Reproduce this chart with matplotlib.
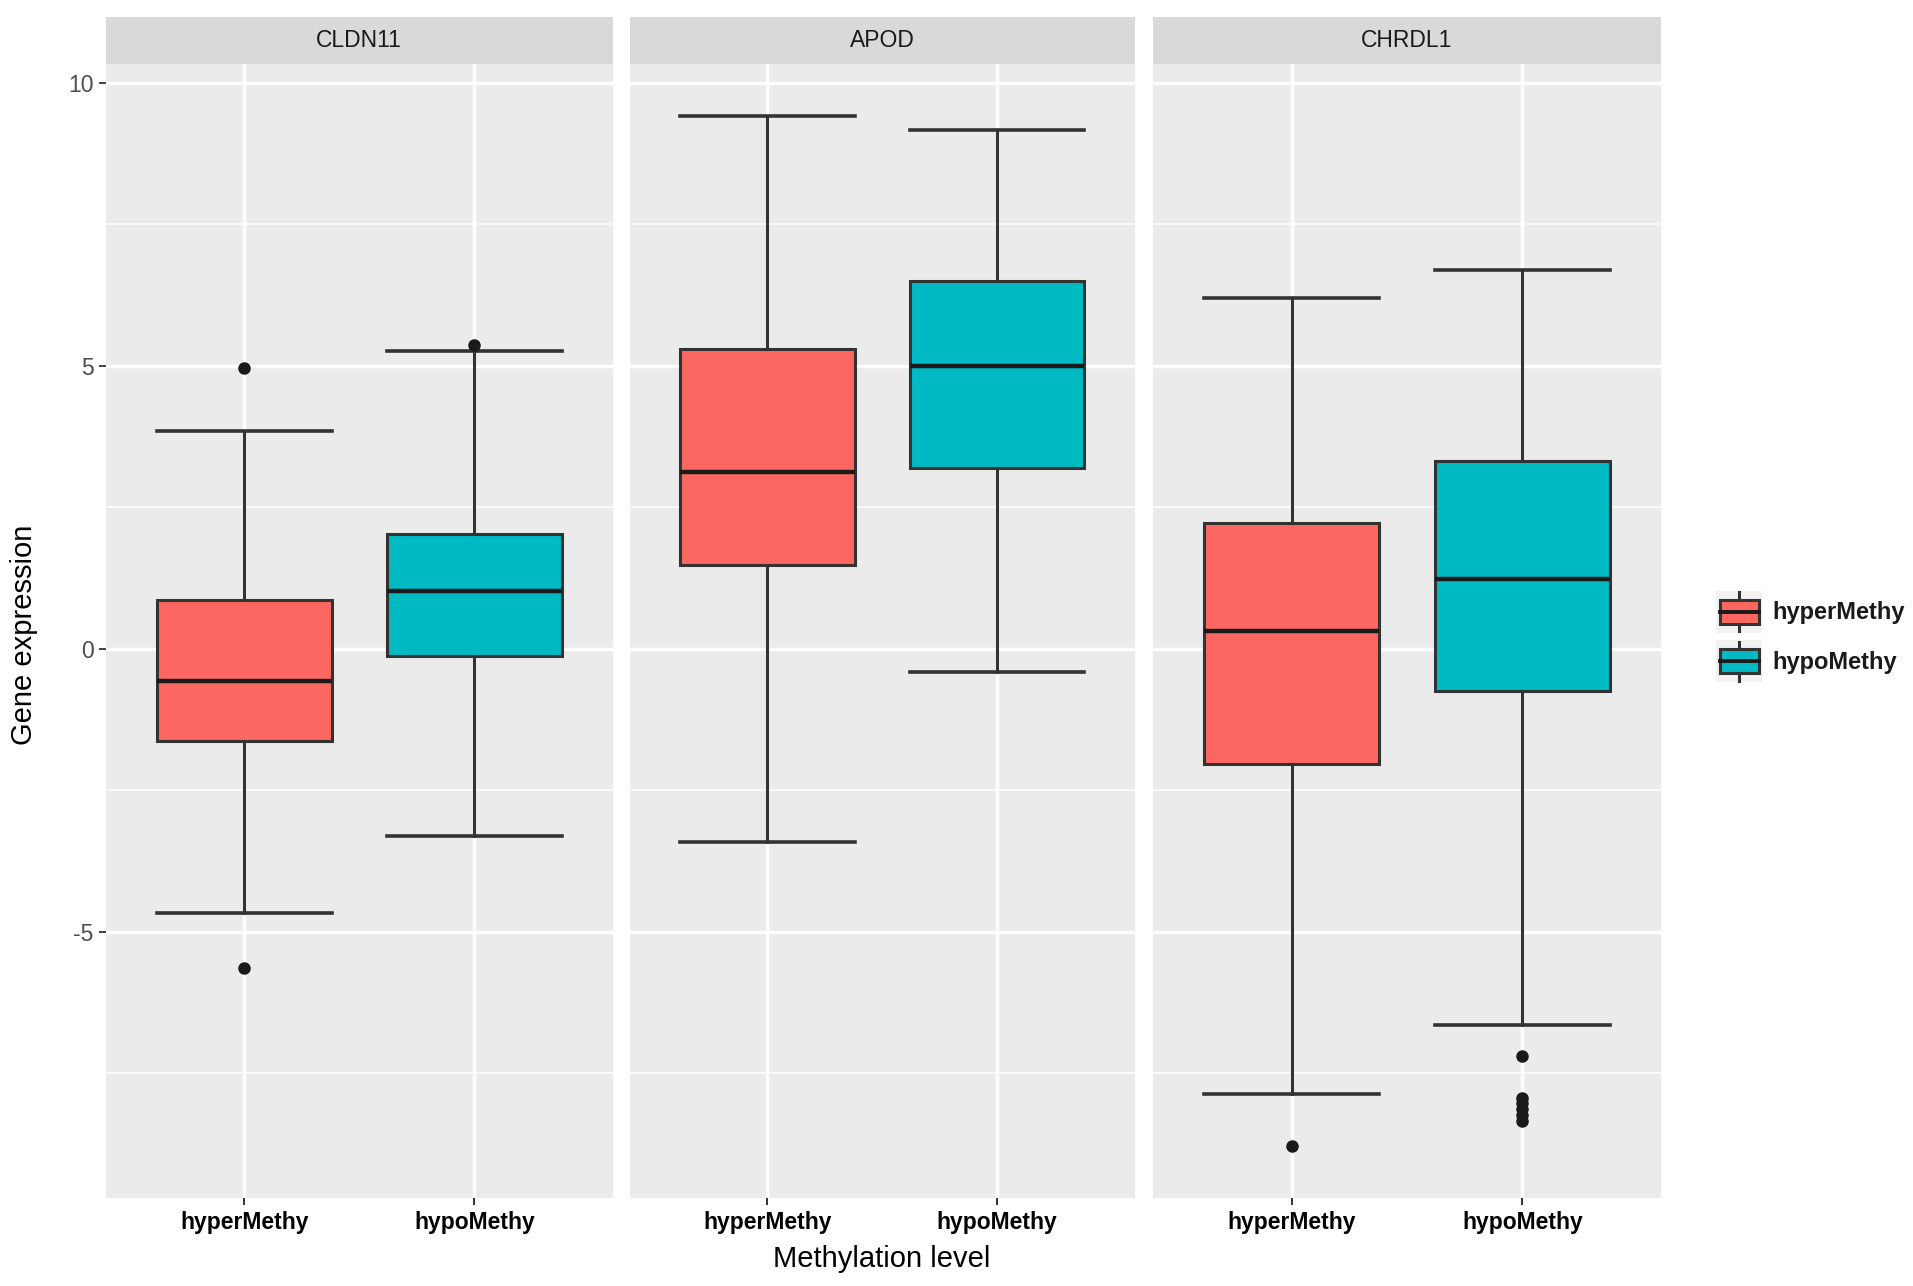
import matplotlib
matplotlib.use("Agg")
import matplotlib.pyplot as plt
from matplotlib.patches import Rectangle, Patch
from matplotlib.lines import Line2D
from matplotlib.legend_handler import HandlerBase

plt.rcParams['font.family'] = ['Liberation Sans', 'DejaVu Sans']

# ---------------- data ----------------
genes = ["CLDN11", "APOD", "CHRDL1"]
groups = ["hyperMethy", "hypoMethy"]
colors = ["#FC6861", "#00BAC3"]

# per gene: [hyper, hypo]
whisker_low = {"CLDN11": [-4.66, -3.30], "APOD": [-3.41, -0.41], "CHRDL1": [-7.87, -6.64]}
q1          = {"CLDN11": [-1.62, -0.13], "APOD": [1.49, 3.19],   "CHRDL1": [-2.03, -0.75]}
median      = {"CLDN11": [-0.56, 1.03],  "APOD": [3.13, 5.00],   "CHRDL1": [0.32, 1.23]}
q3          = {"CLDN11": [0.86, 2.03],   "APOD": [5.30, 6.49],   "CHRDL1": [2.22, 3.32]}
whisker_hi  = {"CLDN11": [3.84, 5.26],   "APOD": [9.42, 9.16],   "CHRDL1": [6.19, 6.70]}
outliers    = {"CLDN11": [[4.96, -5.63], [5.37]],
               "APOD":   [[], []],
               "CHRDL1": [[-8.79], [-7.20, -7.93, -8.03, -8.13, -8.23, -8.34]]}

yticks = [-5, 0, 5, 10]
ytick_labels = ["-5", "0", "5", "10"]
ylim = (-9.7, 10.34)

# ---------------- figure ----------------
W, H = 1913, 1286
fig = plt.figure(figsize=(W / 100, H / 100), dpi=100)

panel_x = [(106, 612.5), (629.5, 1135), (1153, 1661)]
top_px, bot_px, strip_top_px = 63.5, 1198, 17

def fx(px):
    return px / W

def fy(py):
    return 1 - py / H

PANEL_BG = "#EBEBEB"
STRIP_BG = "#D9D9D9"
LINE = "#333333"
axes = []
for i, g in enumerate(genes):
    x0, x1 = panel_x[i]
    ax = fig.add_axes([fx(x0), fy(bot_px), fx(x1 - x0), fy(top_px) - fy(bot_px)])
    axes.append(ax)
    ax.set_facecolor(PANEL_BG)
    for s in ax.spines.values():
        s.set_visible(False)
    ax.set_xlim(0.4, 2.6)
    ax.set_ylim(*ylim)
    ax.set_yticks(yticks)
    ax.set_yticks([-7.5, -2.5, 2.5, 7.5], minor=True)
    ax.set_xticks([1, 2])
    ax.set_xticklabels(groups, fontsize=16.5, fontweight="bold", color="black")
    if i == 0:
        ax.set_yticklabels(ytick_labels, fontsize=16.5, color="#4D4D4D")
    else:
        ax.tick_params(axis="y", which="both", left=False, labelleft=False)
    ax.tick_params(axis="both", which="major", length=5, width=1.3, color="#333333", pad=4)
    ax.tick_params(axis="y", which="minor", length=0)
    ax.grid(True, which="major", color="white", lw=2.4)
    ax.grid(True, which="minor", axis="y", color="white", lw=1.1)
    ax.set_axisbelow(True)

    stats = []
    for j in range(2):
        stats.append(dict(med=median[g][j], q1=q1[g][j], q3=q3[g][j],
                          whislo=whisker_low[g][j], whishi=whisker_hi[g][j],
                          fliers=outliers[g][j], label=groups[j]))
    bp = ax.bxp(stats, positions=[1, 2], widths=0.76, capwidths=0.76,
                patch_artist=True, showfliers=True,
                boxprops=dict(edgecolor=LINE, linewidth=2.2),
                medianprops=dict(color="#1A1A1A", linewidth=3.2),
                whiskerprops=dict(color=LINE, linewidth=2.2),
                capprops=dict(color=LINE, linewidth=2.6),
                flierprops=dict(marker="o", markerfacecolor="#1A1A1A",
                                markeredgecolor="#1A1A1A", markersize=8))
    for patch, c in zip(bp["boxes"], colors):
        patch.set_facecolor(c)

    # strip
    sax = fig.add_axes([fx(x0), fy(top_px), fx(x1 - x0), fy(strip_top_px) - fy(top_px)])
    sax.set_facecolor(STRIP_BG)
    sax.set_xticks([])
    sax.set_yticks([])
    for s in sax.spines.values():
        s.set_visible(False)
    sax.text(0.5, 0.5, g, ha="center", va="center", fontsize=16.5, color="#1A1A1A",
             transform=sax.transAxes)

fig.text(fx(24), 0.506, "Gene expression", rotation=90, ha="center", va="center", fontsize=21)
fig.text(fx(882), fy(1259), "Methylation level", ha="center", va="center", fontsize=21)


class BoxHandler(HandlerBase):
    def create_artists(self, legend, orig_handle, xdescent, ydescent, width, height,
                       fontsize, trans):
        x0, y0 = -xdescent, -ydescent
        bg = Rectangle((x0, y0), width, height, fc="#F2F2F2", ec="none", transform=trans)
        cx = x0 + width / 2
        wl = Line2D([cx, cx], [y0 + 0.04 * height, y0 + 0.22 * height], color=LINE, lw=2.2, transform=trans)
        wh = Line2D([cx, cx], [y0 + 0.78 * height, y0 + 0.96 * height], color=LINE, lw=2.2, transform=trans)
        box = Rectangle((x0 + 0.08 * width, y0 + 0.22 * height), 0.84 * width, 0.56 * height,
                        fc=orig_handle.get_facecolor(), ec=LINE, lw=2.2, transform=trans)
        med = Line2D([x0 + 0.08 * width, x0 + 0.92 * width], [y0 + 0.5 * height] * 2,
                     color="#1A1A1A", lw=2.8, transform=trans)
        return [bg, wl, wh, box, med]


handles = [Patch(facecolor=c) for c in colors]
fig.legend(handles, groups, loc="center left", bbox_to_anchor=(0.886, 0.505),
           frameon=False, handler_map={Patch: BoxHandler()},
           prop=dict(size=17, weight="bold"), handlelength=1.95, handleheight=2.38,
           labelspacing=0.3, handletextpad=0.45, labelcolor="#1A1A1A")

fig.savefig("out.png", dpi=100, facecolor="white")
